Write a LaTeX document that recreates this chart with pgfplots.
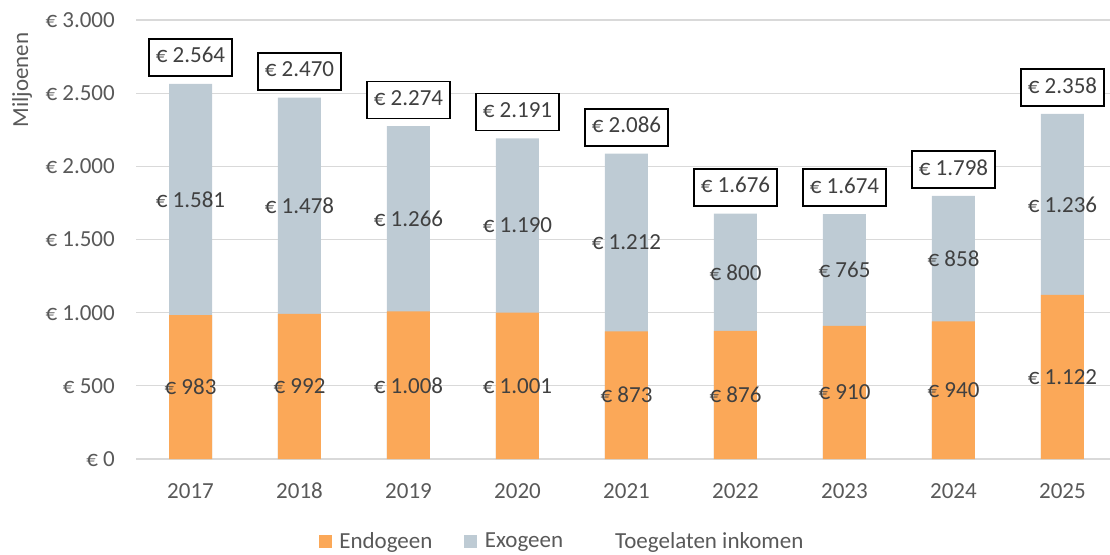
\documentclass[border=0pt]{standalone}
\usepackage{fontspec}
\setmainfont{Carlito}
\usepackage{pgfplots}
\usepackage{pgfplotstable}
\pgfplotsset{compat=1.18}
\definecolor{endo}{RGB}{251,168,88}
\definecolor{exo}{RGB}{190,203,212}
\definecolor{gridc}{RGB}{217,217,217}
\definecolor{tickc}{RGB}{89,89,89}
\definecolor{lblc}{RGB}{64,64,64}
\newcommand{\F}{\fontsize{23}{27}\selectfont}
\pgfplotstableread{
x endo exo total endol exol totl
0 983 1581 2564 983 1.581 2.564
1 992 1478 2470 992 1.478 2.470
2 1008 1266 2274 1.008 1.266 2.274
3 1001 1190 2191 1.001 1.190 2.191
4 873 1212 2086 873 1.212 2.086
5 876 800 1676 876 800 1.676
6 910 765 1674 910 765 1.674
7 940 858 1798 940 858 1.798
8 1122 1236 2358 1.122 1.236 2.358
}\data
\begin{document}
\begin{tikzpicture}[x=1pt,y=1pt]
\path[use as bounding box] (0,0) rectangle (1110,554);
\begin{axis}[
  at={(136pt,95pt)}, anchor=south west,
  scale only axis, width=974pt, height=439pt,
  xmin=-0.5, xmax=8.436, ymin=0, ymax=3000,
  axis line style={draw=none},
  major tick length=0pt,
  ymajorgrids, grid style={gridc, line width=1.3pt},
  xtick={0,...,8}, xticklabels={2017,2018,2019,2020,2021,2022,2023,2024,2025},
  ytick={0,500,1000,1500,2000,2500,3000},
  yticklabels={€ 0,€ 500,€ 1.000,€ 1.500,€ 2.000,€ 2.500,€ 3.000},
  tick label style={font=\F, text=tickc, inner sep=0pt},
  yticklabel style={anchor=east, xshift=-21pt},
  xticklabel style={anchor=north, yshift=-24pt},
  clip=false,
  legend style={at={(0.4375,-0.187)}, anchor=center, draw=none, fill=none,
    font=\F, text=tickc, legend columns=3,
    /tikz/every odd column/.append style={column sep=6pt},
    /tikz/every even column/.append style={column sep=30pt},
    legend cell align=left},
]
\addplot[ybar, bar width=43pt, bar shift=0pt, fill=exo, draw=none, forget plot] table[x=x, y=total] {\data};
\addplot[ybar, bar width=43pt, bar shift=0pt, fill=endo, draw=none, forget plot] table[x=x, y=endo] {\data};
\addplot[draw=none, mark=none, forget plot, point meta=explicit symbolic,
  nodes near coords={€ \pgfplotspointmeta},
  nodes near coords style={anchor=center, font=\F, text=lblc, inner sep=0pt}]
  table[x=x, y expr=\thisrow{endo}/2, meta=endol] {\data};
\addplot[draw=none, mark=none, forget plot, point meta=explicit symbolic,
  nodes near coords={€ \pgfplotspointmeta},
  nodes near coords style={anchor=center, font=\F, text=lblc, inner sep=0pt}]
  table[x=x, y expr=\thisrow{endo}+\thisrow{exo}/2, meta=exol] {\data};
\addplot[draw=none, mark=none, forget plot, point meta=explicit symbolic,
  nodes near coords={€ \pgfplotspointmeta},
  nodes near coords style={anchor=south, yshift=7pt, font=\F, text=lblc, draw=black, line width=1.6pt,
    fill=white, inner xsep=7pt, inner ysep=8pt, text height=16pt, text depth=5pt}]
  table[x=x, y=total, meta=totl] {\data};
\addlegendimage{legend image code/.code={\fill[endo] (0pt,-6pt) rectangle (12pt,6pt);}}
\addlegendentry{Endogeen}
\addlegendimage{legend image code/.code={\fill[exo] (0pt,-6pt) rectangle (12pt,6pt);}}
\addlegendentry{Exogeen}
\addlegendimage{legend image code/.code={\path[draw=none,fill=none] (0pt,-6pt) rectangle (12pt,6pt);}}
\addlegendentry{Toegelaten inkomen}
\end{axis}
\node[rotate=90, font=\F, text=tickc] at (22,474) {Miljoenen};
\end{tikzpicture}
\end{document}
